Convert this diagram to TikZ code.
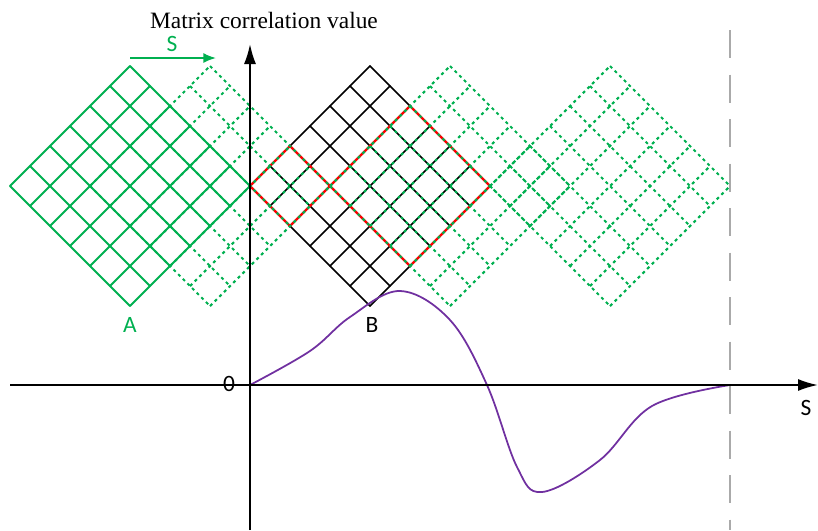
\documentclass[tikz,border=0pt]{standalone}
\usepackage{fontspec}
\setmainfont{Liberation Serif}
\setsansfont{Carlito}
\usetikzlibrary{arrows.meta}

\definecolor{cellgreen}{RGB}{0,176,80}
\definecolor{curvepurple}{RGB}{112,48,160}
\definecolor{limitgray}{RGB}{170,170,170}

% 6x6 rotated cell grid: #1 style, #2 centre x (centre y is 186)
\newcommand{\cellgrid}[2]{%
  \foreach \i in {0,...,6} {
    \draw[#1] (#2-120+20*\i,186-20*\i) -- (#2+20*\i,306-20*\i);
    \draw[#1] (#2-120+20*\i,186+20*\i) -- (#2+20*\i,66+20*\i);
  }}

\begin{document}
\begin{tikzpicture}[x=0.3mm, y=-0.3mm]
    \tikzstyle{solidcell}  = [draw=cellgreen, line width=1.7pt, line cap=round]
    \tikzstyle{shiftcell}  = [draw=cellgreen, line width=1.8pt, dash pattern=on 2.6pt off 3pt]
    \tikzstyle{matchcell}  = [draw=black, line width=1.4pt, line cap=round]
    \tikzstyle{overlap}    = [draw=red, line width=1.9pt, line join=miter]
    \tikzstyle{axis}       = [draw=black, line width=1.6pt, -{Latex[length=6mm, width=3.6mm]}]
    \tikzstyle{shiftarrow} = [draw=cellgreen, line width=1.5pt, -{Latex[length=3.8mm, width=3mm]}]
    \tikzstyle{sanslabel}  = [font=\fontsize{20}{24}\selectfont\sffamily, inner sep=1pt]

    \useasboundingbox (0,0) rectangle (818,530);

    % Template A and matched block B
    \cellgrid{solidcell}{130}
    \cellgrid{matchcell}{370}

    % Overlap regions
    \draw [overlap] (250,186) -- (290,146) -- (330,186) -- (290,226) -- cycle;
    \draw [overlap] (330,186) -- (410,106) -- (490,186) -- (410,266) -- cycle;

    % Shifted positions of A
    \cellgrid{shiftcell}{210}
    \cellgrid{shiftcell}{450}
    \cellgrid{shiftcell}{610}

    % Correlation curve
    \draw [curvepurple, line width=1.5pt] plot [smooth, tension=0.6] coordinates {
        (250,385) (310,351) (350,317) (400,291)
        (450,320) (487,385) (517,467) (542,492)
        (600,460) (652,406) (730,385)};

    % Axes
    \coordinate (xleft)  at (10,385);
    \coordinate (xright) at (818,385);
    \coordinate (ybot)   at (250,530);
    \coordinate (ytop)   at (250,44);
    \coordinate (limtop) at (730,30);
    \coordinate (limbot) at (730,530);
    \draw [limitgray, line width=1.6pt, dash pattern=on 24pt off 14pt] (limtop) -- (limbot);
    \draw [axis] (xleft) -- (xright);
    \draw [axis] (ybot) -- (ytop);

    % Shift direction
    \coordinate (sfrom) at (130,58);
    \coordinate (sto)   at (216,58);
    \draw [shiftarrow] (sfrom) -- (sto);

    % Labels
    \node [font=\fontsize{20}{24}\selectfont, inner sep=1pt] (title) at (264,20) {Matrix correlation value};
    \node [sanslabel, text=cellgreen] (slabel) at (172,44) {S};
    \node [sanslabel, text=cellgreen] (alabel) at (130,325) {A};
    \node [sanslabel] (blabel) at (372,325) {B};
    \node [sanslabel] (origin) at (229,384) {0};
    \node [sanslabel] (xlabel) at (806,408) {S};
\end{tikzpicture}
\end{document}
